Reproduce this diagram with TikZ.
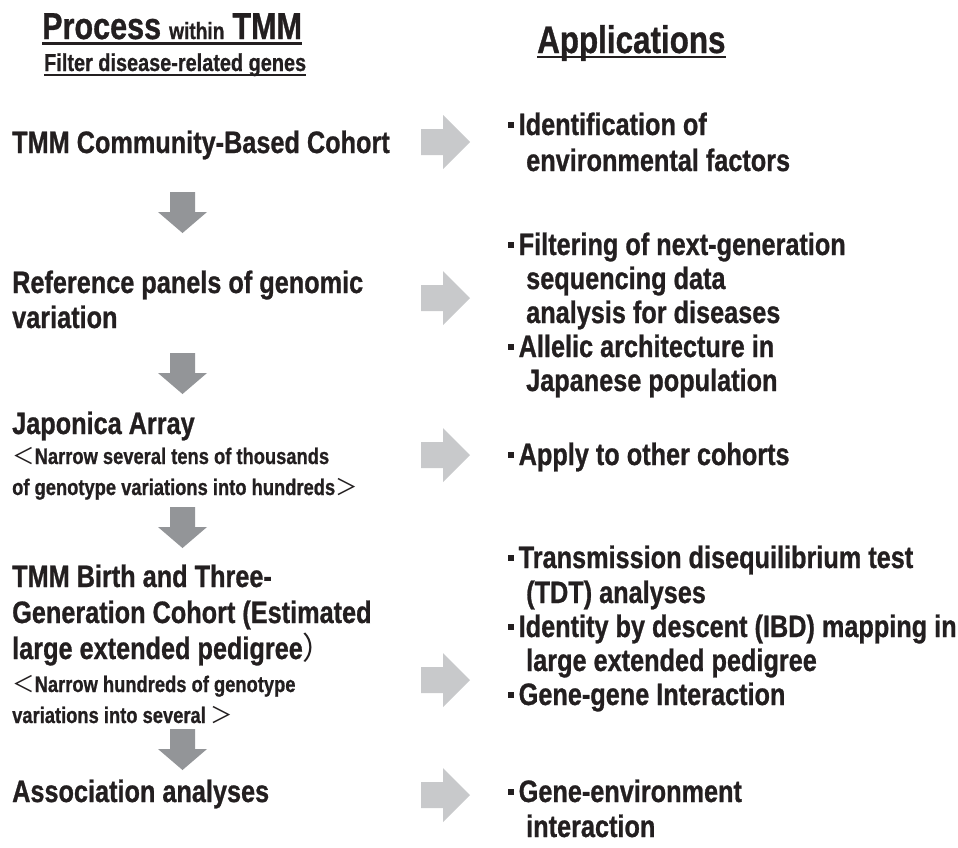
\documentclass[tikz,border=0pt]{standalone}
\usepackage{fontspec}
\setmainfont{Liberation Sans}[FakeStretch=0.815, BoldFeatures={FakeBold=0.8}]
\newfontfamily\cjkfont{Noto Sans CJK JP}
\definecolor{tcol}{HTML}{231F20}
\definecolor{rgray}{HTML}{C8C9CB}
\definecolor{dgray}{HTML}{939598}
\newcommand\opang{{\cjkfont\mdseries ＜}}
\newcommand\clang{{\cjkfont\mdseries ＞}}
\newcommand\clpar{{\cjkfont\mdseries ）}}
\newcommand\bsq{\rule[7.5pt]{5.5pt}{5.5pt}\hspace{5pt}}
\newcommand\myrarr[1]{\fill[rgray] (421,#1-13) -- (443,#1-13) -- (443,#1-27) -- (470,#1) -- (443,#1+27) -- (443,#1+13) -- (421,#1+13) -- cycle;}
\newcommand\mydarr[1]{\fill[dgray] (170,#1) -- (195,#1) -- (195,#1+20) -- (207,#1+20) -- (182.5,#1+41) -- (158,#1+20) -- (170,#1+20) -- cycle;}
\tikzset{
  big/.style={anchor=base west, inner sep=0pt, text=tcol, font=\bfseries\fontsize{31}{35}\selectfont},
  sml/.style={anchor=base west, inner sep=0pt, text=tcol, font=\bfseries\fontsize{22.5}{26}\selectfont},
  uline/.style={draw=tcol}
}
\begin{document}
\begin{tikzpicture}[x=1pt,y=-1pt]
\useasboundingbox[fill=white] (0,0) rectangle (958,847);
% headers
\node[anchor=base west, inner sep=0pt, text=tcol, font=\bfseries] (hdr) at (42,39)
  {\fontsize{37.5}{40}\selectfont Process\hspace{8pt}{\fontsize{23.5}{26}\selectfont within}\hspace{8pt}TMM};
\draw[uline, line width=2.2pt] ([yshift=-4.5pt]hdr.base west) -- ([yshift=-4.5pt]hdr.base east);
\node[anchor=base west, inner sep=0pt, text=tcol, font=\bfseries\fontsize{24.4}{26}\selectfont] (sub) at (44,71) {Filter disease-related genes};
\draw[uline, line width=1.6pt] ([yshift=-4pt]sub.base west) -- ([yshift=-4pt]sub.base east);
\node[anchor=base west, inner sep=0pt, text=tcol, font=\bfseries\fontsize{38.5}{42}\selectfont] (app) at (537,53) {Applications};
\draw[uline, line width=2.4pt] ([yshift=-4pt]app.base west) -- ([yshift=-4pt]app.base east);
% left column
\node[big] (c1) at (12,153) {TMM Community-Based Cohort};
\node[big] (r1) at (12,293) {Reference panels of genomic};
\node[big] (r2) at (12,328) {variation};
\node[big] (j1) at (12,434) {Japonica Array};
\node[sml] (j2) at (12,464) {\opang Narrow several tens of thousands};
\node[sml] (j3) at (12,495) {of genotype variations into hundreds\clang};
\node[big] (b1) at (12,587) {TMM Birth and Three-};
\node[big] (b2) at (12,623) {Generation Cohort (Estimated};
\node[big] (b3) at (12,659) {large extended pedigree\clpar};
\node[sml] (b4) at (12,692) {\opang Narrow hundreds of genotype};
\node[sml] (b5) at (12,723) {variations into several \clang};
\node[big] (a1) at (12,802) {Association analyses};
% down arrows
\mydarr{192}
\mydarr{353}
\mydarr{507}
\mydarr{729}
% right arrows
\myrarr{142}
\myrarr{298}
\myrarr{455}
\myrarr{680}
\myrarr{795}
% right column
\node[big] (p1) at (508,135) {\bsq Identification of};
\node[big] (p1b) at (526,171) {environmental factors};
\node[big] (p2) at (508,255) {\bsq Filtering of next-generation};
\node[big] (p2b) at (526,289) {sequencing data};
\node[big] (p2c) at (526,323) {analysis for diseases};
\node[big] (p3) at (508,357) {\bsq Allelic architecture in};
\node[big] (p3b) at (526,391) {Japanese population};
\node[big] (p4) at (508,465) {\bsq Apply to other cohorts};
\node[big] (p5) at (508,568) {\bsq Transmission disequilibrium test};
\node[big] (p5b) at (526,603) {(TDT) analyses};
\node[big] (p6) at (508,637) {\bsq Identity by descent (IBD) mapping in};
\node[big] (p6b) at (526,671) {large extended pedigree};
\node[big] (p7) at (508,705) {\bsq Gene-gene Interaction};
\node[big] (p8) at (508,802) {\bsq Gene-environment};
\node[big] (p8b) at (526,837) {interaction};
\end{tikzpicture}
\end{document}
